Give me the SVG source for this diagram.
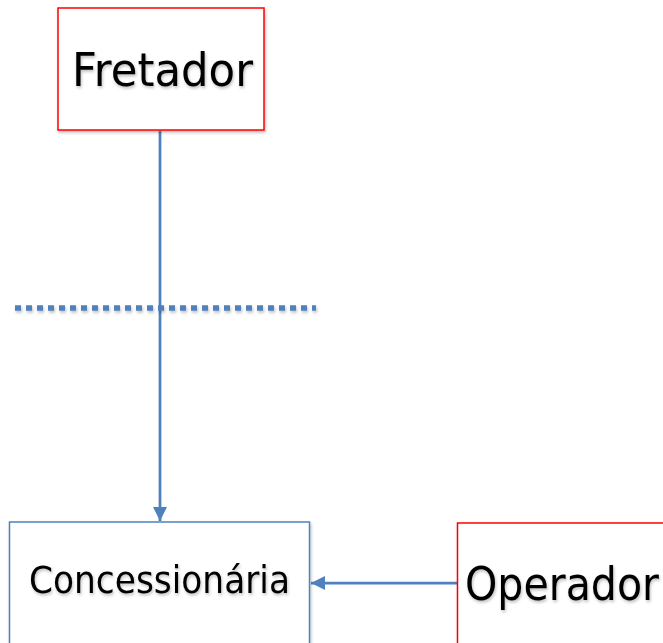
<svg xmlns="http://www.w3.org/2000/svg" width="663" height="643" viewBox="0 0 663 643">
<defs>
<filter id="sh" x="-10%" y="-10%" width="130%" height="130%"><feDropShadow dx="1" dy="2" stdDeviation="1.5" flood-color="#000" flood-opacity="0.25"/></filter>
<filter id="shl" filterUnits="userSpaceOnUse" x="0" y="290" width="340" height="40"><feDropShadow dx="1" dy="2" stdDeviation="1.5" flood-color="#000" flood-opacity="0.25"/></filter>
<marker id="ah" viewBox="0 0 10 10" refX="10" refY="5" markerWidth="16" markerHeight="14" markerUnits="userSpaceOnUse" orient="auto"><path d="M0,0 L10,5 L0,10 z" fill="#4f81bd"/></marker>
<style>
.lbl{font-family:"DejaVu Sans",Verdana,sans-serif;fill:#000;}
.red{fill:#fff;stroke:#ff0000;stroke-width:1.5;}
.blue{fill:#fff;stroke:#4f81bd;stroke-width:1.5;}
.con{stroke:#4f81bd;stroke-width:2.75;fill:none;}
</style>
</defs>
<rect width="663" height="643" fill="#fff"/>
<g id="connectors">
<line class="con" x1="160" y1="131" x2="160" y2="521" marker-end="url(#ah)"/>
<line class="con" x1="457" y1="583" x2="311" y2="583" marker-end="url(#ah)"/>
<line x1="15" y1="308" x2="316" y2="308" stroke="#4f81bd" stroke-width="5.5" stroke-dasharray="6 5" filter="url(#shl)"/>
</g>
<g id="fretador">
<rect class="red" x="58" y="8" width="206" height="122" filter="url(#sh)"/>
<text class="lbl" x="72" y="86" font-size="46" textLength="181" lengthAdjust="spacingAndGlyphs" filter="url(#sh)">Fretador</text>
</g>
<g id="concessionaria">
<rect class="blue" x="9.5" y="522" width="300" height="130" filter="url(#sh)"/>
<text class="lbl" x="29" y="593" font-size="37" textLength="261" lengthAdjust="spacingAndGlyphs" filter="url(#sh)">Concessionária</text>
</g>
<g id="operador">
<rect class="red" x="457.5" y="523" width="220" height="130" filter="url(#sh)"/>
<text class="lbl" x="465" y="600" font-size="46" textLength="194" lengthAdjust="spacingAndGlyphs" filter="url(#sh)">Operador</text>
</g>
</svg>
